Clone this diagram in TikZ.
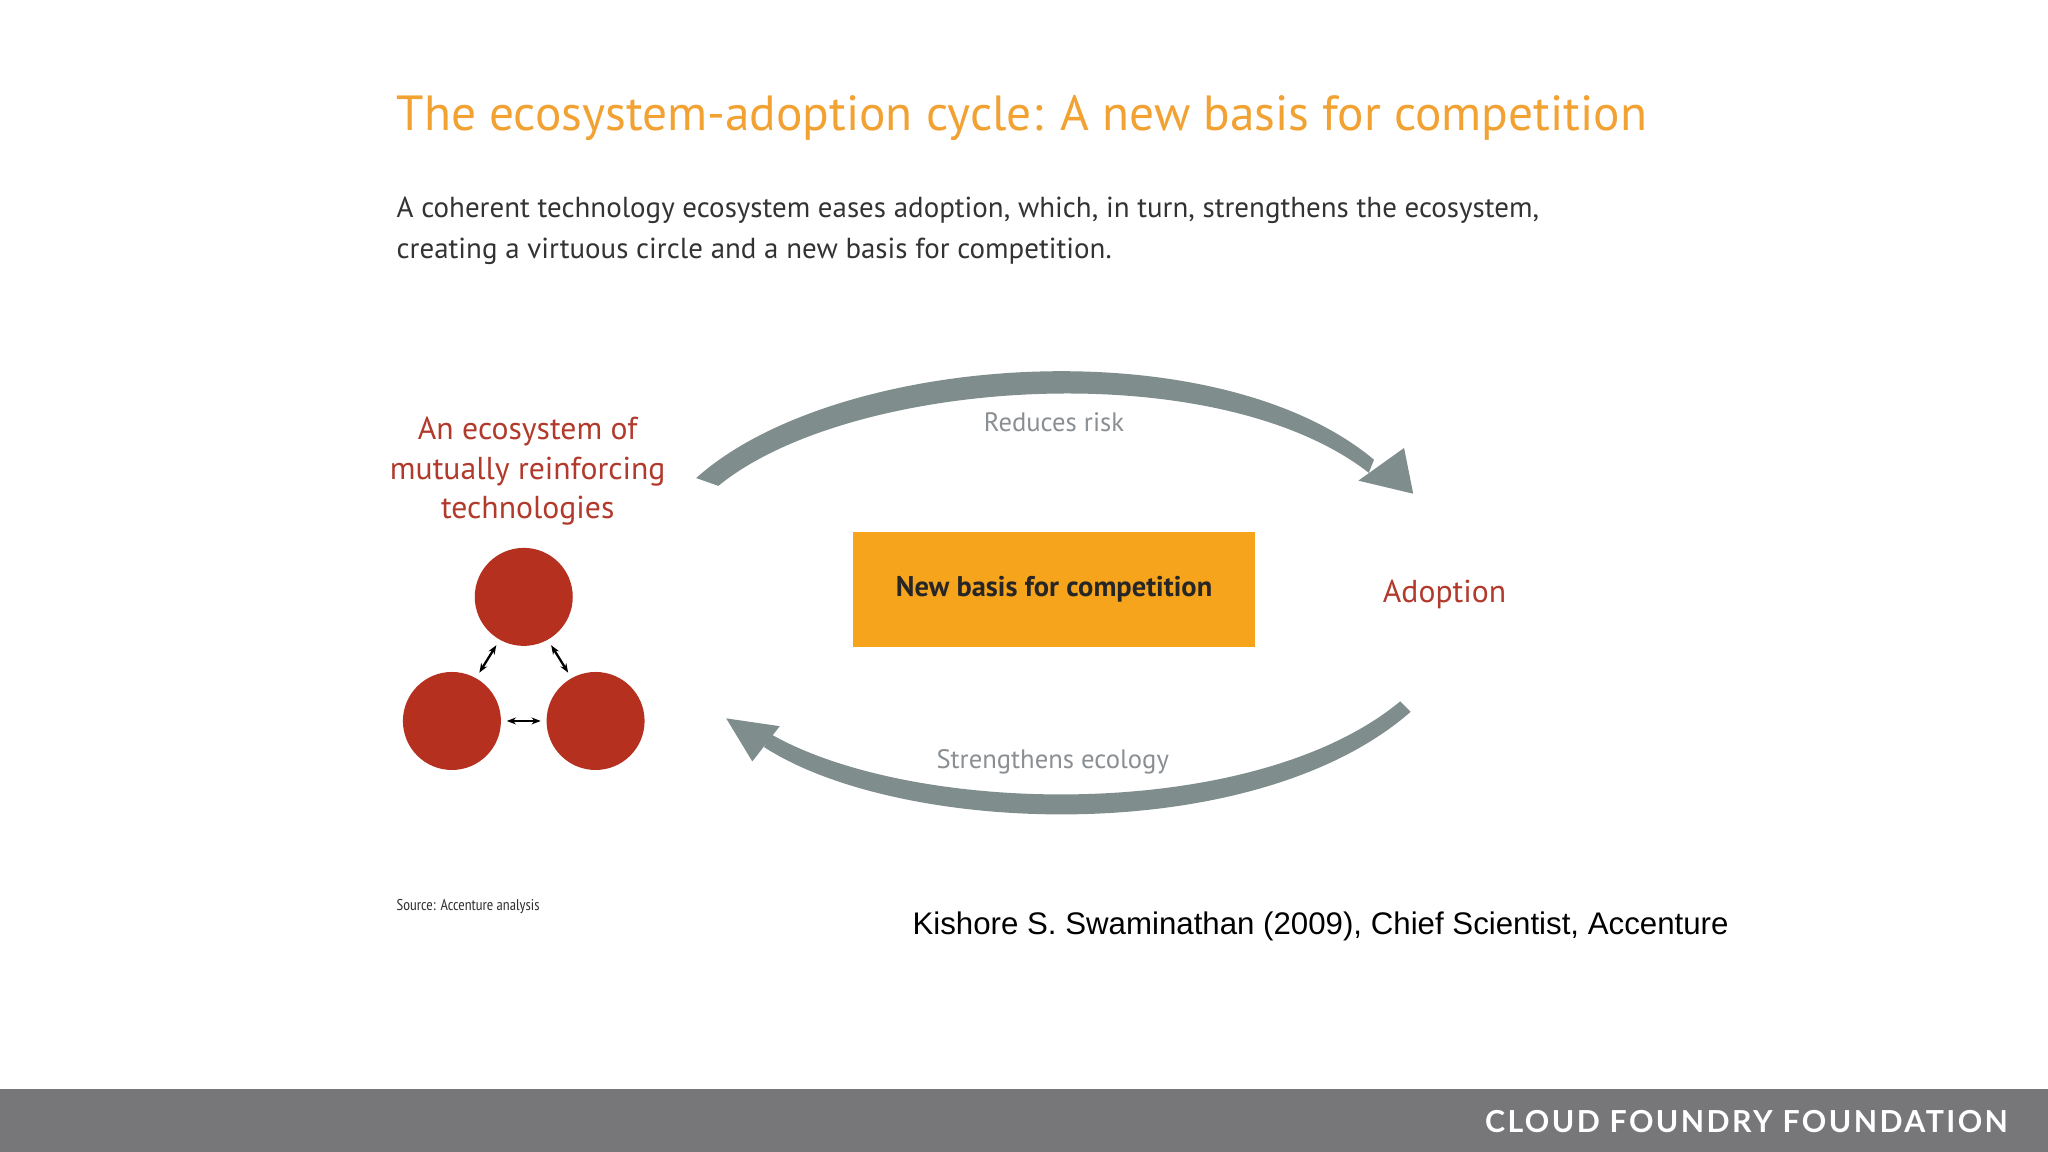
\documentclass[tikz,border=0pt]{standalone}
\usepackage{fontspec}
\setmainfont{PT Sans}
\newfontfamily\arialf{Liberation Sans}
\newfontfamily\footf[LetterSpace=8]{Lato}
\newfontfamily\condf{PT Sans Narrow}
\usetikzlibrary{arrows.meta}
\definecolor{ttl}{HTML}{F2A233}
\definecolor{boxo}{HTML}{F7A41D}
\definecolor{redc}{HTML}{B5301E}
\definecolor{redt}{HTML}{B23A2C}
\definecolor{arcg}{HTML}{7F8E8C}
\definecolor{lbl}{HTML}{8A8F94}
\definecolor{foot}{HTML}{77777A}
\begin{document}
\begin{tikzpicture}[x=0.01cm,y=-0.01cm,
  redlbl/.style={text=redt,font=\fontsize{6.9pt}{8.6pt}\selectfont,align=center},
  arclbl/.style={text=lbl,font=\fontsize{5.8pt}{7pt}\selectfont},
  tech/.style={circle,fill=redc,minimum size=0.75cm,inner sep=0pt},
  small/.style={{Stealth[length=2pt]}-{Stealth[length=2pt]},line width=0.5pt}]
\useasboundingbox (0,0) rectangle (1568,882);
\fill[white] (0,0) rectangle (1568,882);
\fill[foot] (0,834) rectangle (1568,882);
\node[anchor=east,inner sep=0pt,text=white,font=\footf\bfseries\fontsize{6.6pt}{8pt}\selectfont] (ft) at (1538,859) {CLOUD FOUNDRY FOUNDATION};
\node[anchor=west,inner sep=0pt,text=ttl,font=\fontsize{10.75pt}{12pt}\selectfont] (title) at (303,90) {The ecosystem-adoption cycle: A new basis for competition};
\node[anchor=north west,inner sep=0pt,align=left,text=black!80,font=\fontsize{6.3pt}{9pt}\selectfont] (sub) at (303,150) {A coherent technology ecosystem eases adoption, which, in turn, strengthens the ecosystem,\\creating a virtuous circle and a new basis for competition.};
% top arc
\fill[arcg] (533,366) .. controls (640,270) and (930,250) .. (1052,352) -- (1048,362) .. controls (930,270) and (650,290) .. (550,372) -- cycle;
\fill[arcg] (1082,378) -- (1040,368) -- (1075,343) -- cycle;
% bottom arc
\fill[arcg] (1080,545) .. controls (960,650) and (690,640) .. (585,572) -- (590,562) .. controls (700,625) and (960,630) .. (1072,537) -- cycle;
\fill[arcg] (556,550) -- (597,556) -- (576,583) -- cycle;
\node[arclbl] (rr) at (807,323) {Reduces risk};
\node[arclbl] (se) at (806,583) {Strengthens ecology};
\node[fill=boxo,minimum width=3.08cm,minimum height=0.88cm,font=\bfseries\fontsize{6.2pt}{7pt}\selectfont,text=black!85] (box) at (807,451) {New basis for competition};
\node[redlbl] (ad) at (1106,455) {Adoption};
\node[redlbl] (eco) at (404,361) {An ecosystem of\\mutually reinforcing\\technologies};
\node[tech] (c1) at (401,457) {};
\node[tech] (c2) at (346,552) {};
\node[tech] (c3) at (456,552) {};
\draw[small] (380,494) -- (367,515);
\draw[small] (422,494) -- (435,515);
\draw[small] (388,552) -- (414,552);
\node[anchor=west,inner sep=0pt,font=\condf\fontsize{3.4pt}{4pt}\selectfont,text=black!80] (src) at (303,694) {Source: Accenture analysis};
\node[anchor=west,inner sep=0pt,font=\arialf\fontsize{6.8pt}{8pt}\selectfont] (q) at (698,709) {Kishore S. Swaminathan (2009), Chief Scientist, Accenture};
\end{tikzpicture}
\end{document}
